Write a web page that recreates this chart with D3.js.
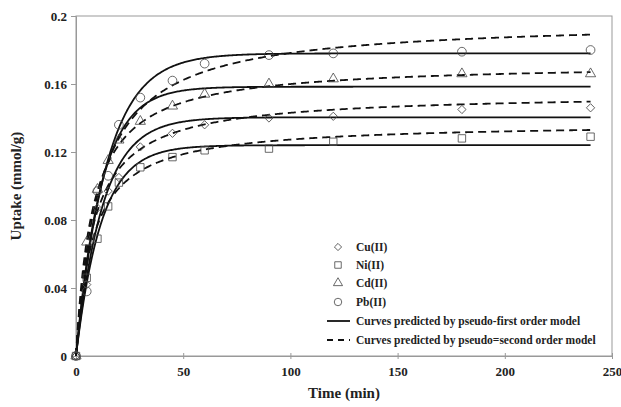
<!DOCTYPE html>
<html>
<head>
    <title>Uptake kinetics</title>
    <script src="https://d3js.org/d3.v7.min.js"></script>
    <style>
        body { margin: 0; background: #fff; }
        text { font-family: "Liberation Serif", "Times New Roman", serif; font-weight: bold; fill: #222; }
    </style>
</head>
<body>
    <div id="chart"></div>
    <script>
// sampling times (min)
const times = [0, 5, 10, 15, 20, 30, 45, 60, 90, 120, 180, 240];

// measured uptake (mmol/g)
const cu = [0, 0.042, 0.087, 0.097, 0.105, 0.123, 0.131, 0.136, 0.140, 0.141, 0.145, 0.146];
const ni = [0, 0.046, 0.069, 0.088, 0.102, 0.111, 0.117, 0.121, 0.122, 0.126, 0.128, 0.129];
const cd = [0, 0.067, 0.098, 0.115, 0.127, 0.138, 0.147, 0.154, 0.160, 0.163, 0.166, 0.166];
const pb = [0, 0.038, 0.097, 0.106, 0.136, 0.152, 0.162, 0.172, 0.177, 0.178, 0.179, 0.180];

const metals = ['Cu(II)', 'Ni(II)', 'Cd(II)', 'Pb(II)'];
const symbols = [d3.symbolSquare, d3.symbolSquare, d3.symbolTriangle, d3.symbolCircle];
const rotations = [45, 0, 0, 0];

// fitted model parameters, same order as metals
const qe1 = [0.1404, 0.124, 0.1584, 0.178];   // pseudo-first order
const k1 = [0.08, 0.085, 0.085, 0.07];
const qe2 = [0.1547, 0.1373, 0.1724, 0.1976];  // pseudo-second order
const k2 = [0.794, 0.929, 0.747, 0.466];

const xTicks = [0, 50, 100, 150, 200, 250];
const yTicks = [0, 0.04, 0.08, 0.12, 0.16, 0.2];
const yTickLabels = ['0', '0.04', '0.08', '0.12', '0.16', '0.2'];

const legendLabels = [
    'Curves predicted by pseudo-first order model',
    'Curves predicted by pseudo=second order model'
];

const width = 621;
const height = 407;
const margin = { top: 16, right: 9, bottom: 51, left: 76 };

const svg = d3.select('#chart')
    .append('svg')
    .attr('width', width)
    .attr('height', height);

const x = d3.scaleLinear().domain([0, 250]).range([margin.left, width - margin.right]);
const y = d3.scaleLinear().domain([0, 0.2]).range([height - margin.bottom, margin.top]);

const axisColor = '#999';

// frame
svg.append('rect')
    .attr('x', x(0))
    .attr('y', y(0.2))
    .attr('width', x(250) - x(0))
    .attr('height', y(0) - y(0.2))
    .attr('fill', 'none')
    .attr('stroke', axisColor)
    .attr('stroke-width', 1);

// x axis
const xAxis = svg.append('g')
    .attr('transform', `translate(0,${y(0)})`)
    .call(d3.axisBottom(x).tickValues(xTicks).tickSize(3).tickPadding(8));
xAxis.selectAll('.tick line').attr('y1', -3);
// y axis
const yAxis = svg.append('g')
    .attr('transform', `translate(${x(0)},0)`)
    .call(d3.axisLeft(y).tickValues(yTicks).tickSize(5).tickPadding(4)
        .tickFormat((d, i) => yTickLabels[i]));

[xAxis, yAxis].forEach(a => {
    a.select('.domain').attr('stroke', axisColor);
    a.selectAll('.tick line').attr('stroke', axisColor);
    a.selectAll('.tick text')
        .attr('font-family', '"Liberation Serif", serif')
        .attr('font-weight', 'bold')
        .attr('font-size', 13)
        .attr('fill', '#222');
});

// axis titles
svg.append('text')
    .attr('x', (x(0) + x(250)) / 2)
    .attr('y', 398)
    .attr('text-anchor', 'middle')
    .attr('font-size', 15)
    .text('Time (min)');

svg.append('text')
    .attr('transform', `translate(21,${(y(0) + y(0.2)) / 2}) rotate(-90)`)
    .attr('text-anchor', 'middle')
    .attr('font-size', 15)
    .text('Uptake (mmol/g)');

// model curves
const curveTimes = d3.range(0, 240.5, 0.5);
const line = d3.line().x(d => x(d[0])).y(d => y(d[1]));

metals.forEach((m, i) => {
    const first = curveTimes.map(t => [t, qe1[i] * (1 - Math.exp(-k1[i] * t))]);
    const second = curveTimes.map(t => [t, qe2[i] * qe2[i] * k2[i] * t / (1 + qe2[i] * k2[i] * t)]);
    svg.append('path')
        .attr('d', line(first))
        .attr('fill', 'none')
        .attr('stroke', '#111')
        .attr('stroke-width', 1.8);
    svg.append('path')
        .attr('d', line(second))
        .attr('fill', 'none')
        .attr('stroke', '#111')
        .attr('stroke-width', 1.8)
        .attr('stroke-dasharray', '8,5');
});

// measured points
const series = [cu, ni, cd, pb];
const symbolSizes = [34, 55, 45, 60];
const legendSizes = [26, 42, 36, 44];

series.forEach((vals, i) => {
    svg.append('g')
        .selectAll('path')
        .data(vals)
        .enter()
        .append('path')
        .attr('d', d3.symbol().type(symbols[i]).size(symbolSizes[i]))
        .attr('transform', (d, j) => `translate(${x(times[j])},${y(d)}) rotate(${rotations[i]})`)
        .attr('fill', 'none')
        .attr('stroke', '#444')
        .attr('stroke-width', 0.8);
});

// legend
const legend = svg.append('g');
const legendRows = [247, 265, 283, 302, 321, 340];

metals.forEach((m, i) => {
    legend.append('path')
        .attr('d', d3.symbol().type(symbols[i]).size(legendSizes[i]))
        .attr('transform', `translate(338,${legendRows[i]}) rotate(${rotations[i]})`)
        .attr('fill', 'none')
        .attr('stroke', '#444')
        .attr('stroke-width', 0.8);
    legend.append('text')
        .attr('x', 356)
        .attr('y', legendRows[i])
        .attr('dy', '0.35em')
        .attr('font-size', 11.5)
        .text(m);
});

legendLabels.forEach((lab, i) => {
    const yy = legendRows[4 + i];
    legend.append('line')
        .attr('x1', 327).attr('x2', 350)
        .attr('y1', yy).attr('y2', yy)
        .attr('stroke', '#111')
        .attr('stroke-width', 1.8)
        .attr('stroke-dasharray', i === 1 ? '6,5' : null);
    legend.append('text')
        .attr('x', 356)
        .attr('y', yy)
        .attr('dy', '0.35em')
        .attr('font-size', 11.5)
        .text(lab);
});
    </script>
</body>
</html>
